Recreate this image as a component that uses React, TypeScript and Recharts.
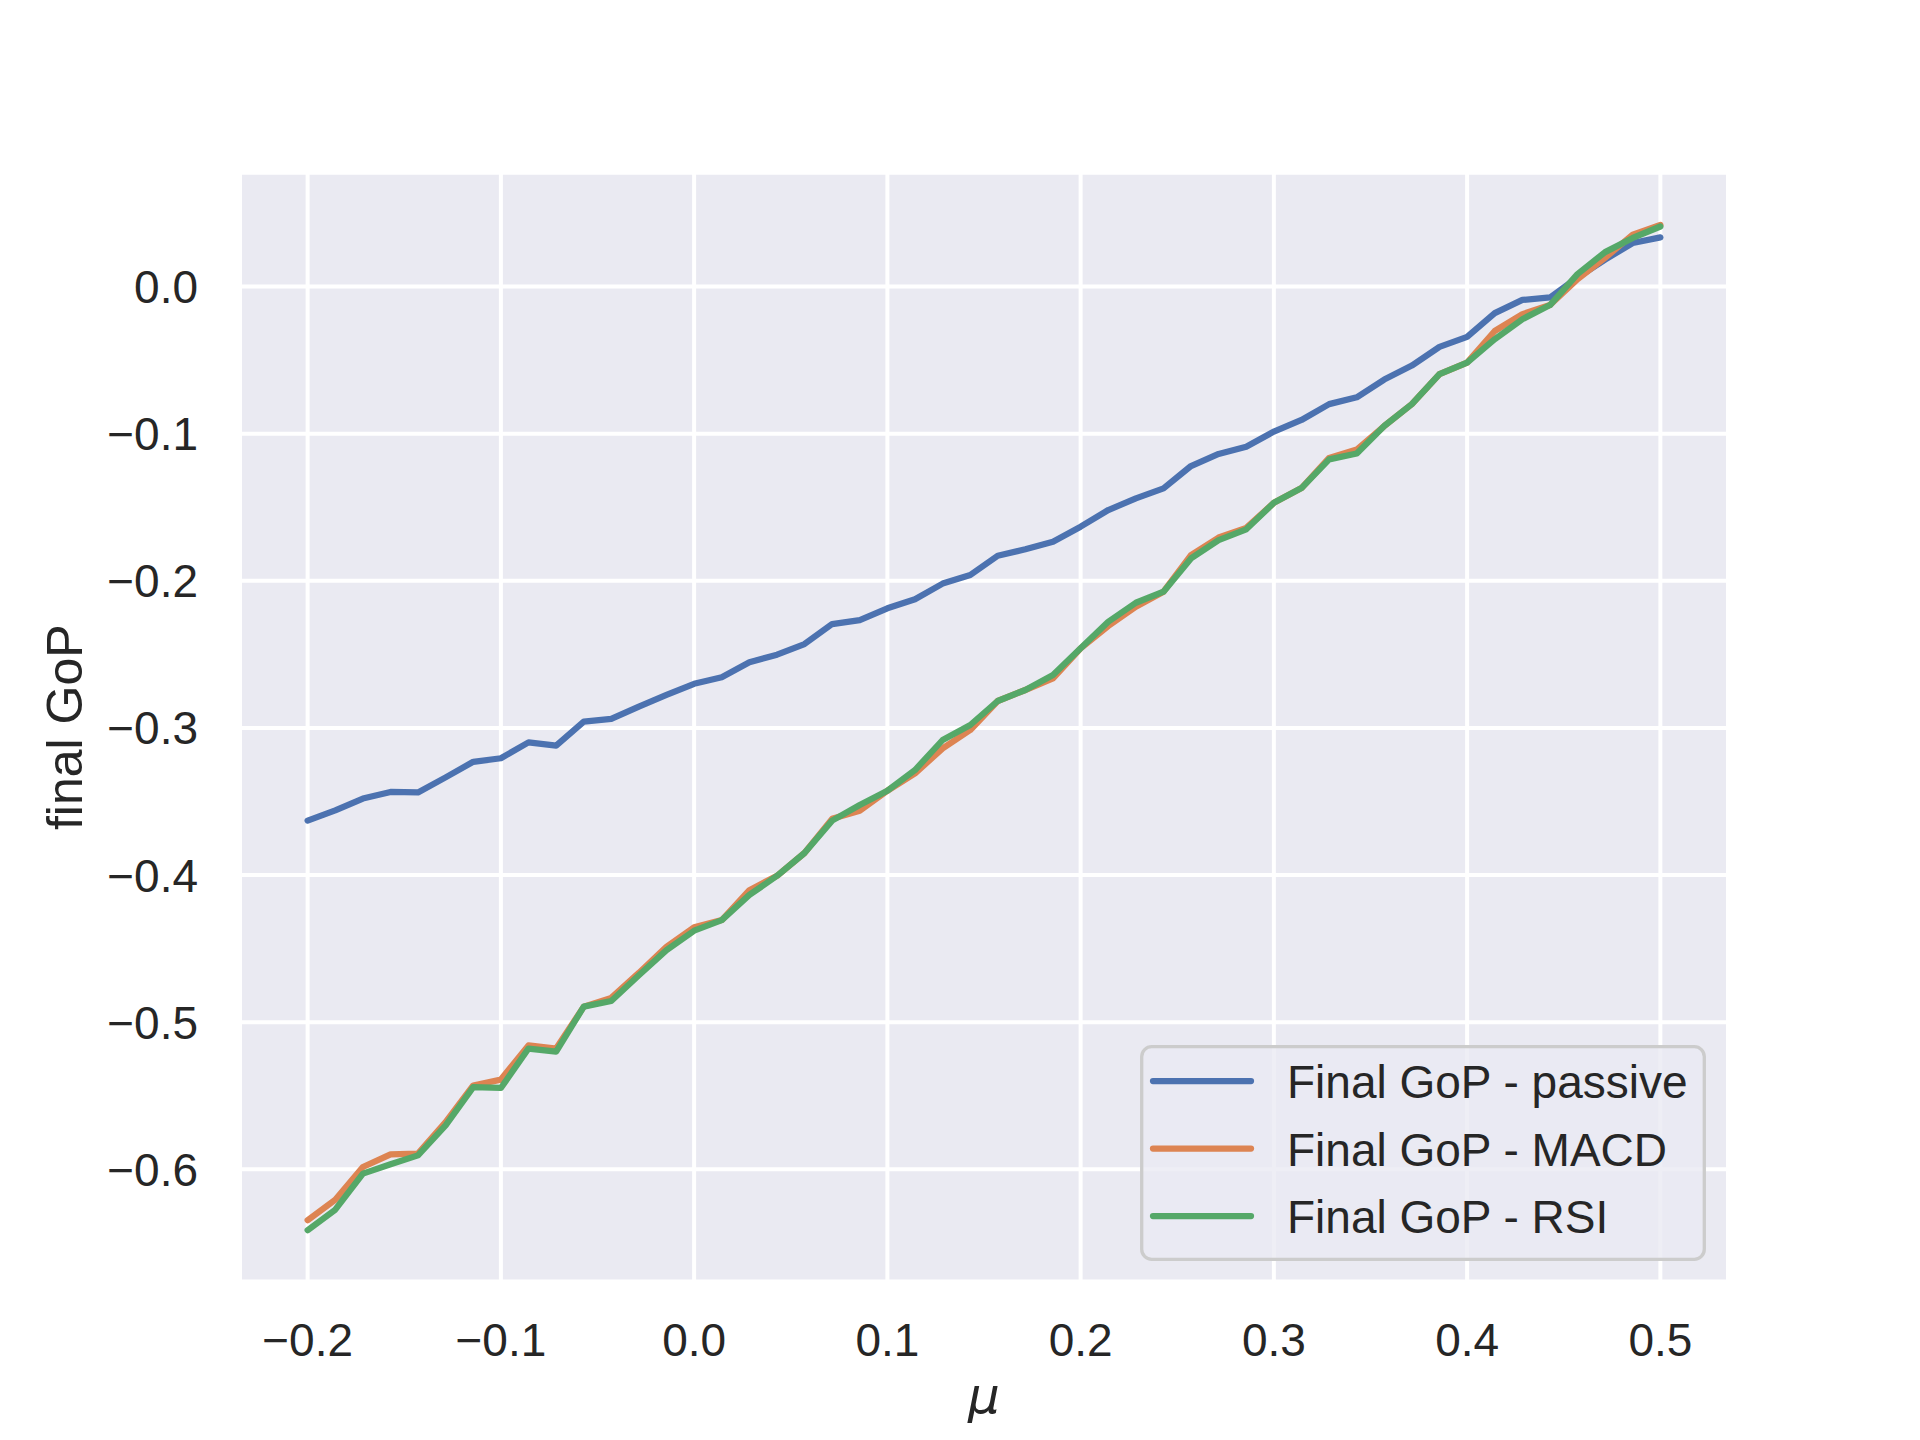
import { CartesianGrid, Legend, Line, LineChart, XAxis, YAxis } from "recharts"

// mu grid (50 runs between -0.2 and 0.5)
const mu = [
  -0.2, -0.1857, -0.1714, -0.1571, -0.1429, -0.1286, -0.1143, -0.1, -0.0857, -0.0714,
  -0.0571, -0.0429, -0.0286, -0.0143, 0, 0.0143, 0.0286, 0.0429, 0.0571, 0.0714,
  0.0857, 0.1, 0.1143, 0.1286, 0.1429, 0.1571, 0.1714, 0.1857, 0.2, 0.2143,
  0.2286, 0.2429, 0.2571, 0.2714, 0.2857, 0.3, 0.3143, 0.3286, 0.3429, 0.3571,
  0.3714, 0.3857, 0.4, 0.4143, 0.4286, 0.4429, 0.4571, 0.4714, 0.4857, 0.5,
]

const passive = [
  -0.363, -0.356, -0.348, -0.3435, -0.3438, -0.3336, -0.323, -0.3206, -0.3098, -0.312,
  -0.2957, -0.2939, -0.2855, -0.2776, -0.27, -0.2656, -0.2554, -0.2502, -0.243, -0.2294,
  -0.2267, -0.2187, -0.2125, -0.2019, -0.1961, -0.183, -0.1786, -0.1734, -0.1632, -0.1519,
  -0.144, -0.1372, -0.122, -0.1138, -0.1089, -0.0986, -0.0907, -0.0799, -0.0753, -0.0632,
  -0.0537, -0.041, -0.0342, -0.0181, -0.0091, -0.0074, 0.0061, 0.0183, 0.0296, 0.0334,
]

const macd = [
  -0.6346, -0.6206, -0.5984, -0.5898, -0.5893, -0.5679, -0.543, -0.539, -0.5158, -0.5179,
  -0.4894, -0.4835, -0.4665, -0.4487, -0.4355, -0.4306, -0.4103, -0.4005, -0.385, -0.3618,
  -0.3563, -0.3427, -0.3309, -0.3139, -0.3014, -0.2817, -0.2742, -0.2663, -0.2459, -0.2307,
  -0.2176, -0.2074, -0.1825, -0.1706, -0.164, -0.147, -0.137, -0.1165, -0.1108, -0.0948,
  -0.0799, -0.0596, -0.0517, -0.0302, -0.0188, -0.0126, 0.005, 0.0195, 0.0353, 0.0419,
]

const rsi = [
  -0.6414, -0.6274, -0.6029, -0.5966, -0.5905, -0.5701, -0.5441, -0.5447, -0.5179, -0.52,
  -0.4894, -0.4856, -0.4681, -0.451, -0.4378, -0.4306, -0.4135, -0.4005, -0.385, -0.363,
  -0.3524, -0.3427, -0.3286, -0.3082, -0.298, -0.2817, -0.2742, -0.264, -0.2459, -0.2278,
  -0.2149, -0.2074, -0.1848, -0.1723, -0.165, -0.147, -0.137, -0.1175, -0.1135, -0.0948,
  -0.0799, -0.0596, -0.0517, -0.0358, -0.0222, -0.0126, 0.0084, 0.0234, 0.033, 0.0408,
]

const xTicks = [-0.2, -0.1, 0.0, 0.1, 0.2, 0.3, 0.4, 0.5]
const yTicks = [-0.6, -0.5, -0.4, -0.3, -0.2, -0.1, 0.0]

const series = [
  { key: "passive", name: "Final GoP - passive", color: "#4C72B0" },
  { key: "macd", name: "Final GoP - MACD", color: "#DD8452" },
  { key: "rsi", name: "Final GoP - RSI", color: "#55A868" },
]

const data = mu.map((m, i) => ({ mu: m, passive: passive[i], macd: macd[i], rsi: rsi[i] }))

const W = 1920
const H = 1440
const TEXT = "#262626"
const FONT = "'Liberation Sans', Arial, sans-serif"
const ROW = 67.5

const fmt = (v: number) => v.toFixed(1).replace("-", "\u2212")

const XTick = ({ x, payload }: any) => (
  <text x={x} y={1356} textAnchor="middle" fontSize={46} fill={TEXT} fontFamily={FONT}>
    {fmt(payload.value)}
  </text>
)

const YTick = ({ y, payload }: any) => (
  <text x={198} y={y} dy={16.5} textAnchor="end" fontSize={46} fill={TEXT} fontFamily={FONT}>
    {fmt(payload.value)}
  </text>
)

const LegendBox = () => (
  <svg width={566} height={216} style={{ display: "block" }}>
    <rect x={1.7} y={1.7} width={562.6} height={212.6} rx={10} fill="#EAEAF2" fillOpacity={0.8} stroke="#CCCCCC" strokeWidth={3.3} />
    {series.map((s, i) => (
      <g key={s.key}>
        <line x1={13} x2={111} y1={36 + i * ROW} y2={36 + i * ROW} stroke={s.color} strokeWidth={6.25} strokeLinecap="round" />
        <text x={147} y={53 + i * ROW} fontSize={46} fill={TEXT} fontFamily={FONT}>
          {s.name}
        </text>
      </g>
    ))}
  </svg>
)

export default function App() {
  return (
    <div style={{ position: "absolute", left: 0, top: 0, width: W, height: H, background: "#fff" }}>
      <LineChart width={W} height={H} data={data} margin={{ top: 172.8, right: 192, bottom: 28.4, left: 40 }}>
        <CartesianGrid fill="#EAEAF2" fillOpacity={1} stroke="#FFFFFF" strokeWidth={4} />
        <XAxis
          type="number"
          dataKey="mu"
          domain={[-0.235, 0.535]}
          ticks={xTicks}
          allowDataOverflow
          axisLine={false}
          tickLine={false}
          height={130}
          tick={<XTick />}
          label={{
            content: ({ viewBox }: any) => (
              <text
                x={viewBox.x + viewBox.width / 2}
                y={viewBox.y + 131.6}
                textAnchor="middle"
                fontSize={50}
                fontStyle="italic"
                fontFamily="'DejaVu Sans', sans-serif"
                fill={TEXT}
              >
                μ
              </text>
            ),
          }}
        />
        <YAxis
          type="number"
          domain={[-0.6763, 0.0773]}
          ticks={yTicks}
          allowDataOverflow
          axisLine={false}
          tickLine={false}
          width={200}
          tick={<YTick />}
          label={{
            content: ({ viewBox }: any) => {
              const cy = viewBox.y + viewBox.height / 2
              return (
                <text
                  x={82}
                  y={cy}
                  transform={`rotate(-90, 82, ${cy})`}
                  textAnchor="middle"
                  fontSize={50}
                  fontFamily={FONT}
                  fill={TEXT}
                >
                  final GoP
                </text>
              )
            },
          }}
        />
        {series.map((s) => (
          <Line
            key={s.key}
            type="linear"
            dataKey={s.key}
            name={s.name}
            stroke={s.color}
            strokeWidth={6.25}
            strokeLinecap="round"
            strokeLinejoin="round"
            dot={false}
            activeDot={false}
            isAnimationActive={false}
          />
        ))}
        <Legend
          layout="vertical"
          align="center"
          verticalAlign="middle"
          content={<LegendBox />}
          wrapperStyle={{ position: "absolute", left: 1140, top: 1045, width: 566, height: 216 }}
        />
      </LineChart>
    </div>
  )
}
